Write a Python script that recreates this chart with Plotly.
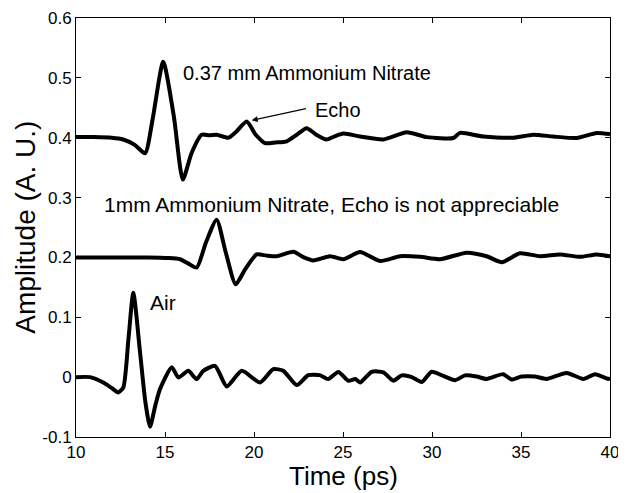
import plotly.graph_objects as go

# 0.37 mm Ammonium Nitrate trace (offset ~0.4)
t_037 = [10.0, 11.0, 12.0, 12.65, 13.3, 13.88, 14.3, 14.9, 15.5, 16.0, 16.5, 17.06, 17.5, 17.9, 18.56, 19.0, 19.59, 20.1, 20.62, 21.2, 21.84, 22.4, 22.96, 23.5, 24.08, 24.5, 25.02,
         25.96, 27.27, 28.58, 29.7, 31.2, 31.57, 32.88, 34.57, 35.69, 36.81, 38.13, 39.25, 40.0]
y_037 = [0.401, 0.401, 0.400, 0.397, 0.388, 0.374, 0.43, 0.527, 0.435, 0.330, 0.375, 0.405, 0.404, 0.405, 0.400, 0.410, 0.427, 0.405, 0.391, 0.392, 0.394, 0.405, 0.416, 0.405, 0.397, 0.402, 0.407,
         0.402, 0.397, 0.409, 0.401, 0.3995, 0.408, 0.402, 0.400, 0.405, 0.402, 0.3995, 0.408, 0.406]

# 1 mm Ammonium Nitrate trace (offset ~0.2)
t_1mm = [10.0, 12.0, 14.0, 15.2, 15.84, 16.3, 16.78, 17.3, 17.9, 18.4, 18.97, 19.5, 20.15, 20.7, 21.27, 22.21, 22.8, 23.33, 24.27, 25.02,
         25.96, 27.08, 28.2, 29.33, 30.45, 31.95, 33.07, 33.92, 34.94, 36.07, 37.19, 38.31, 39.25, 40.0]
y_1mm = [0.200, 0.200, 0.200, 0.199, 0.197, 0.190, 0.183, 0.225, 0.263, 0.210, 0.155, 0.180, 0.205, 0.203, 0.202, 0.2095, 0.200, 0.195, 0.202, 0.197,
         0.209, 0.194, 0.202, 0.201, 0.197, 0.208, 0.202, 0.192, 0.207, 0.202, 0.205, 0.201, 0.205, 0.202]

# Air trace (offset ~0)
t_air = [10.0, 10.79, 11.53, 12.0, 12.38, 12.66, 12.95, 13.22, 13.6, 13.9, 14.16, 14.45, 14.72, 15.38, 15.75, 16.31, 16.78, 17.15, 17.81, 18.47, 19.31, 20.34, 21.08, 21.65, 22.4, 23.05, 23.7, 24.17, 24.74, 25.3,
         25.7, 25.96, 26.61, 27.27, 27.83, 28.3, 28.86, 29.42, 29.98, 30.64, 31.3, 31.86, 32.51, 33.07, 34.0, 34.47, 35.03, 35.78, 36.44, 37.56, 38.5, 39.16, 39.9, 40.0]
y_air = [0.0, 0.0, -0.009, -0.018, -0.0255, -0.017, 0.065, 0.141, 0.041, -0.042, -0.083, -0.048, -0.02, 0.0165, -0.0005, 0.0105, -0.0033, 0.0105, 0.0188, -0.0155, 0.0105, -0.009, 0.0133, 0.0105, -0.0133, 0.0033, 0.0033, -0.0033, 0.0088, -0.006,
         -0.003, -0.009, 0.009, 0.008, -0.006, 0.003, 0.0, -0.008, 0.009, 0.002, -0.005, 0.003, 0.001, -0.003, 0.005, -0.004, 0.001, 0.001, -0.003, 0.007, -0.003, 0.005, -0.003, -0.002]

x_ticks = [10, 15, 20, 25, 30, 35, 40]
y_ticks = [-0.1, 0, 0.1, 0.2, 0.3, 0.4, 0.5, 0.6]
y_tick_text = ["-0.1", "0", "0.1", "0.2", "0.3", "0.4", "0.5", "0.6"]

FONT = "Liberation Sans, Arial, sans-serif"

fig = go.Figure()
for tx, ty in [(t_037, y_037), (t_1mm, y_1mm), (t_air, y_air)]:
    fig.add_trace(go.Scatter(x=tx, y=ty, mode="lines",
                             line=dict(color="black", width=4, shape="spline", smoothing=0.6),
                             showlegend=False, hoverinfo="skip"))

axis_common = dict(showgrid=False, zeroline=False, showline=True, linecolor="black", linewidth=1,
                   mirror="ticks", ticks="inside", ticklen=5, tickcolor="black", automargin=False,
                   tickfont=dict(family=FONT, size=17, color="black"))

fig.update_xaxes(range=[10, 40], tickvals=x_ticks, ticklabelstandoff=0, **axis_common)
fig.update_yaxes(range=[-0.1, 0.6], tickvals=y_ticks, ticktext=y_tick_text, ticklabelstandoff=0, **axis_common)

# axis titles
fig.add_annotation(x=0.5, y=-0.094, xref="paper", yref="paper", text="Time (ps)",
                   showarrow=False, xanchor="center", yanchor="middle", borderpad=0,
                   font=dict(family=FONT, size=26, color="black"))
fig.add_annotation(x=-0.095, y=0.5, xref="paper", yref="paper", text="Amplitude (A. U.)",
                   showarrow=False, xanchor="center", yanchor="middle", textangle=-90, borderpad=0,
                   font=dict(family=FONT, size=28, color="black"))

fig.add_annotation(x=15.9, y=0.508, xref="x", yref="y", text="0.37 mm Ammonium Nitrate",
                   showarrow=False, xanchor="left", yanchor="middle",
                   font=dict(family=FONT, size=20, color="black"))
fig.add_annotation(x=19.87, y=0.429, ax=23.0, ay=0.449, xref="x", yref="y", axref="x", ayref="y",
                   text="", showarrow=True, arrowhead=2, arrowsize=1, arrowwidth=1.2, arrowcolor="black")
fig.add_annotation(x=23.3, y=0.447, xref="x", yref="y", text="Echo",
                   showarrow=False, xanchor="left", yanchor="middle",
                   font=dict(family=FONT, size=20, color="black"))
fig.add_annotation(x=11.46, y=0.288, xref="x", yref="y", text="1mm Ammonium Nitrate, Echo is not appreciable",
                   showarrow=False, xanchor="left", yanchor="middle",
                   font=dict(family=FONT, size=21, color="black"))
fig.add_annotation(x=14.04, y=0.125, xref="x", yref="y", text="Air",
                   showarrow=False, xanchor="left", yanchor="middle",
                   font=dict(family=FONT, size=21, color="black"))

# page body has an 8px margin: size the figure so the plot area lands where the reference has it
fig.update_layout(width=618, height=485, margin=dict(l=68, r=16, t=10, b=56),
                  plot_bgcolor="white", paper_bgcolor="white")

fig.write_html("out.html")
